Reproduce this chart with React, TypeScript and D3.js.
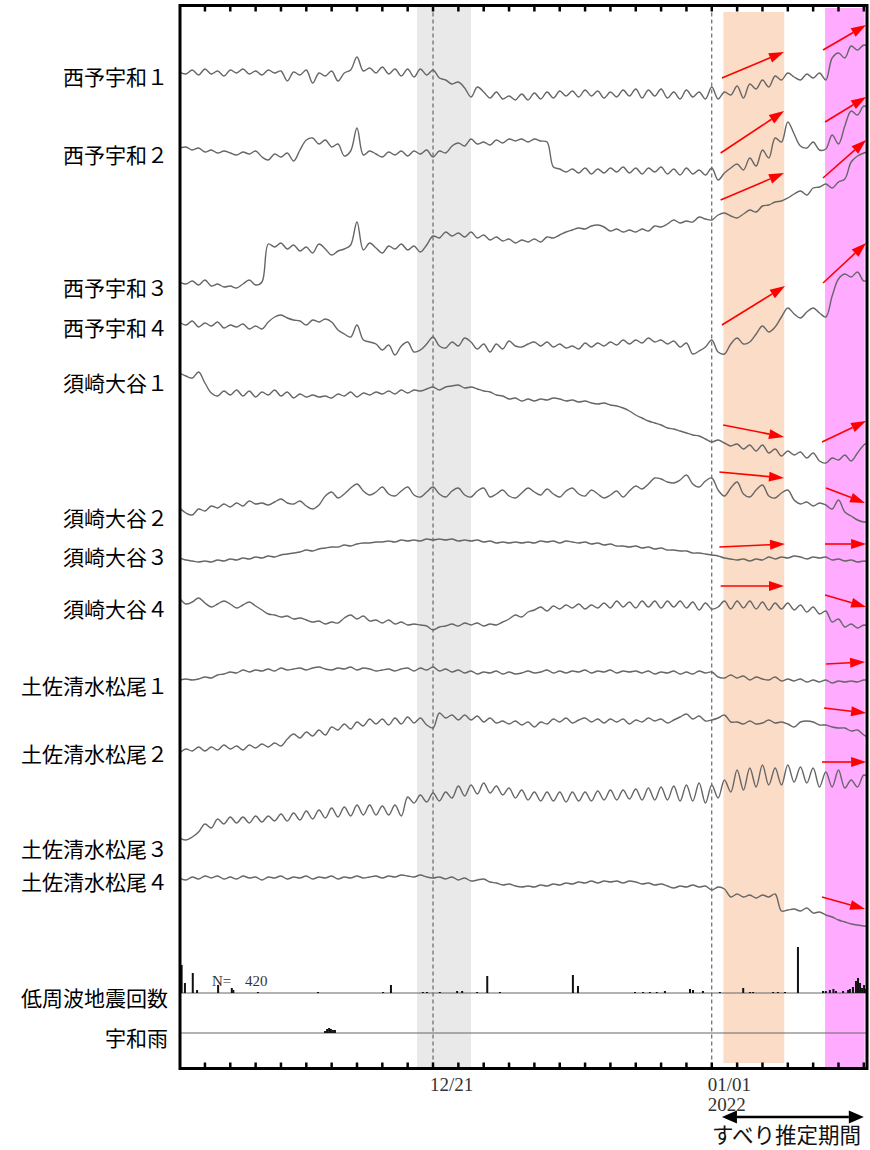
import React from 'react';
import * as d3 from 'd3';

// ---------- data ----------
const START = new Date(2021, 11, 11);
const END = new Date(2022, 0, 7, 3);
const STEP_DAYS = 0.25;

const STATIONS = [
  '西予宇和１', '西予宇和２', '西予宇和３', '西予宇和４',
  '須崎大谷１', '須崎大谷２', '須崎大谷３', '須崎大谷４',
  '土佐清水松尾１', '土佐清水松尾２', '土佐清水松尾３', '土佐清水松尾４',
];

const T1 = [0,-2,2,-3,3,-2,1,-4,2,-1, 3,-2,1,-3,2,-1,1,-9,0,-3, 2,-11,-1,-4,1,-9,-1,2,15,1, 4,-1,5,-2,3,-4,3,-5,3,-3, 2,-6,-8,-12,-10,-16,-25,-15,-20,-26, -20,-27,-24,-28,-22,-28,-21,-27,-20,-26, -19,-24,-19,-25,-18,-24,-19,-26,-20,-25, -18,-24,-17,-26,-18,-24,-17,-26,-20,-27, -18,-25,-20,-27,-15,-27,-20,-23,-14,-26, -12,-17,-8,-15,-4,-8,-1,-5,-8,-2, -6,-1,-8,14,19,14,26,22,27,25];
const T2 = [0,1,-2,0,-4,-2,-5,-3,-5,-7, -4,-6,-3,-9,-12,-6,-9,-5,-13,-2, 8,10,4,8,1,4,-8,-3,20,-7, -3,-6,-9,-4,-7,-3,-8,-3,-6,-2, -9,-3,-5,2,5,2,9,4,6,3, 8,5,9,7,9,6,9,7,6,-19, -21,-24,-21,-25,-20,-26,-21,-25,-20,-24, -19,-25,-20,-26,-20,-24,-19,-26,-21,-27, -20,-26,-22,-27,-20,-32,-25,-20,-16,-22, -10,-18,-2,-10,10,6,26,14,2,0, 6,-2,-1,13,4,22,37,33,42,38];
const T3 = [0,-2,1,-3,2,-4,-2,-5,-4,-6, -2,2,-3,0,38,35,39,33,37,31, 35,29,38,33,27,31,33,37,60,32, 39,34,29,36,33,38,32,36,30,37, 46,44,50,46,49,45,50,44,47,42, 45,41,43,39,42,40,43,40,45,44, 47,50,52,54,53,56,57,55,51,53, 50,52,50,53,51,56,55,58,62,59, 61,60,65,63,62,67,69,66,64,68, 72,70,76,77,80,81,84,88,91,87, 94,95,98,94,100,103,120,126,129,131];
const T4 = [0,-3,1,-5,-1,-4,0,-6,-3,-5, -2,-7,-4,-7,0,5,7,4,2,1, -3,2,0,3,0,-8,-12,-15,-3,-18, -20,-22,-28,-23,-33,-24,-20,-30,-28,-22, -15,-24,-26,-20,-24,-16,-20,-27,-22,-30, -22,-27,-19,-24,-25,-22,-20,-24,-20,-25, -22,-26,-24,-27,-21,-25,-21,-24,-20,-23, -18,-22,-18,-21,-16,-20,-18,-22,-19,-25, -21,-32,-29,-25,-18,-30,-32,-22,-16,-22, -20,-12,-4,-10,-5,5,14,8,4,10, 14,9,5,26,43,48,45,50,41,43];
const T5 = [0,-3,-5,1,-10,-20,-23,-18,-22,-17, -23,-18,-24,-19,-22,-17,-23,-19,-25,-21, -24,-22,-24,-23,-25,-21,-23,-19,-24,-20, -22,-19,-21,-18,-21,-17,-20,-17,-18,-16, -14,-17,-14,-13,-12,-15,-14,-16,-18,-19, -22,-23,-26,-25,-28,-26,-28,-26,-27,-25, -26,-28,-27,-29,-28,-30,-31,-30,-32,-33, -35,-38,-42,-45,-48,-50,-52,-55,-56,-58, -60,-62,-63,-66,-69,-67,-70,-73,-71,-76, -72,-78,-72,-80,-76,-83,-78,-82,-79,-85, -80,-88,-90,-85,-87,-82,-88,-80,-72,-68];
const T6 = [0,-5,-7,-1,-3,2,0,4,1,5, 2,7,4,5,3,6,9,5,4,7, 2,-1,3,12,16,10,14,20,24,17, 13,16,21,14,12,17,21,13,11,16, 21,14,11,17,20,13,11,17,20,11, 14,18,12,10,15,20,16,13,19,14, 11,17,20,14,12,18,14,10,13,17, 11,17,22,19,24,30,29,26,25,28, 33,24,21,27,30,18,12,20,26,14, 11,18,23,12,10,15,18,8,4,6, 2,5,3,-1,8,-4,-8,-12,-14,-13];
const T7 = [0,-2,-3,-4,-3,-4,-2,-3,-1,-2, 0,-1,1,0,2,1,3,4,5,6, 8,7,9,10,11,11,13,12,14,15, 15,16,16,17,16,18,17,18,17,19, 18,19,18,19,17,18,17,18,16,17, 15,16,15,16,15,16,15,17,16,17, 15,17,16,15,16,14,15,13,14,12, 12,11,12,10,11,9,10,8,8,7, 7,5,5,4,3,2,0,-1,-2,-1, -3,-1,-2,1,-1,1,0,2,1,-1, 1,0,1,-2,-1,-3,-2,-4,-3,-4];
const T8 = [0,-6,-4,0,-5,-9,-6,-3,-6,-10, -7,-4,-8,-12,-16,-17,-19,-18,-21,-20, -22,-24,-23,-26,-24,-25,-20,-17,-21,-18, -23,-22,-25,-22,-26,-24,-27,-26,-27,-28, -32,-29,-28,-26,-28,-25,-27,-25,-28,-26, -27,-24,-21,-17,-19,-14,-12,-9,-13,-8, -11,-7,-10,-6,-11,-7,-10,-5,-10,-3, -9,-4,-10,-3,-9,-3,-10,-3,-9,-3, -10,-4,-12,-5,-11,-9,-3,-11,-3,-10, -3,-11,-4,-12,-5,-11,-5,-12,-7,-14, -9,-16,-13,-24,-21,-29,-26,-30,-27,-29];
const T9 = [0,1,0,1,3,2,5,6,8,7, 10,8,10,9,11,9,12,10,11,12, 10,12,13,11,10,12,11,13,10,12, 11,9,10,11,9,11,12,9,12,10, 13,9,11,8,10,7,9,6,8,7, 9,6,8,6,7,9,7,8,10,7, 9,7,9,8,10,7,9,8,10,7, 9,8,9,7,9,6,8,7,9,6, 8,6,9,7,8,3,2,5,2,4, 0,3,1,0,3,-1,1,-1,1,-2, 0,-2,0,-3,-1,-2,-1,-2,0,0];
const T10 = [0,4,2,6,2,6,3,8,4,7, 3,8,5,9,6,10,7,14,19,15, 21,17,23,18,26,23,29,24,31,27, 34,29,34,28,35,29,36,30,35,28, 25,40,35,38,33,38,33,37,31,35, 30,32,29,32,28,31,26,31,29,34, 31,35,30,33,35,31,34,30,34,31, 34,29,33,31,35,32,34,30,33,36, 39,34,37,32,33,35,38,31,31,29, 32,29,30,33,30,31,29,26,31,32, 31,28,28,26,25,25,22,23,18,14];
const T11 = [0,-2,1,6,14,10,19,14,21,15, 21,15,22,16,22,17,24,17,25,18, 27,19,28,20,30,21,31,22,33,23, 33,23,32,23,33,22,41,35,43,36, 45,37,46,40,52,42,53,44,55,45, 52,43,50,40,48,38,46,37,46,37, 46,36,46,37,46,37,47,38,48,38, 48,39,49,38,50,38,51,38,52,37, 53,37,55,35,53,40,58,46,68,48, 70,51,73,53,70,53,73,56,71,55, 70,51,66,51,68,50,58,51,63,58];
const T12 = [0,-2,1,-1,2,0,2,-1,1,-1, 2,0,1,-2,1,0,2,-1,1,0, 2,-1,1,0,2,-1,1,0,2,0, 1,2,0,2,1,3,2,1,3,1, 0,1,-1,1,-2,0,-3,-2,-1,-4, -5,-7,-6,-8,-9,-8,-9,-7,-8,-6, -7,-5,-6,-4,-5,-3,-5,-3,-4,-3, -5,-3,-4,-6,-5,-7,-6,-8,-10,-8, -9,-7,-9,-8,-12,-9,-11,-19,-16,-19, -17,-20,-17,-19,-16,-33,-32,-31,-33,-30, -35,-34,-37,-39,-42,-44,-46,-47,-48,-49];
const SERIES = [T1, T2, T3, T4, T5, T6, T7, T8, T9, T10, T11, T12];

// low-frequency earthquake counts (day offset from 12/11, count)
const QUAKE_DAY = [0.08,0.21,0.52,0.69,1.52,2.06,2.12,3.09,5.46,8.03,8.34,9.6,9.76,10.27,10.95,11.15,11.74,12.14,12.64,15.52,15.72,17.97,18.29,18.56,18.83,19.15,20.14,20.26,20.65,21.32,22.24,22.51,22.63,23.42,23.61,23.89,24.4,25.39,25.5,25.66,25.8,25.9,26.18,26.38,26.45,26.57,26.69,26.77,26.85,26.93,27.01,27.09];
const QUAKE_N = [28,10,20,3,8,5,3,1,1,1,8,1,1,1,2,2,1,17,1,18,7,1,1,1,1,2,4,3,2,1,5,1,1,1,1,1,46,2,2,3,4,2,2,3,4,6,12,15,10,5,8,4];
const QUAKE_TOTAL = 420;
// Uwa rainfall
const RAIN_DAY = [5.74,5.82,5.9,5.97,6.05,6.13];
const RAIN_MM = [2,4,5,4,3,3];

// shaded periods (day offsets)
const BANDS = [
  { d0: 9.37, d1: 11.5, fill: '#e9e9e9', top: 6, bottom: 1067 },
  { d0: 21.46, d1: 23.86, fill: '#fbdcc6', top: 12, bottom: 1063 },
  { d0: 25.47, d1: 27.03, fill: '#ffabff', top: 8, bottom: 1067 },
];
const DASH_DAYS = [10, 21];

// arrows: trace index, start/end day, start/end value
const ARROW_TRACE = [0,1,2,3,4,5,6,7, 0,1,2,3,4,5,6,7,8,9,10,11];
const ARROW_D0 = [21.4,21.35,21.35,21.4,21.45,21.3,21.3,21.35, 25.39,25.47,25.39,25.39,25.35,25.51,25.47,25.47,25.51,25.43,25.35,25.35];
const ARROW_D1 = [23.85,23.85,23.85,23.89,23.85,23.85,23.89,23.85, 27.09,27.09,27.09,27.09,27.09,27.05,27.09,27.09,27.05,27.09,27.09,27.05];
const ARROW_V0 = [-6,-5,82,-3,-52,36,11,12, 22,26,104,39,-69,20,14,3,16,45,76,-19];
const ARROW_V1 = [20,37,109,36,-64,30,14,12, 47,51,142,79,-48,5,14,-9,18,40,76,-31];

// ---------- layout ----------
const TRACE_BASE = [72,148,282,322,373,508,558,598,680,753,838,878];
const LABEL_Y = [76,154,287,327,382,517,556,608,685,753,848,881];
const PLOT = { left: 180, right: 867, top: 5.5, bottom: 1068.5 };
const QUAKE_BASE = 993;
const RAIN_BASE = 1033;

const dayToDate = (d: number) => new Date(START.getTime() + d * 86400000);

function arrowHead(x0: number, y0: number, x1: number, y1: number, len: number, hw: number) {
  const dx = x1 - x0, dy = y1 - y0;
  const L = Math.hypot(dx, dy);
  const ux = dx / L, uy = dy / L;
  const bx = x1 - ux * len, by = y1 - uy * len;
  const px = -uy, py = ux;
  return {
    bx, by,
    pts: `${x1},${y1} ${bx + px * hw},${by + py * hw} ${bx - px * hw},${by - py * hw}`,
  };
}

export default function App() {
  const x = d3.scaleTime().domain([START, END]).range([179.6, 867]);
  const traceScales = TRACE_BASE.map((b) => d3.scaleLinear().domain([0, 1]).range([b, b - 1]));
  const barScale = d3.scaleLinear().domain([0, 50]).range([0, 50]);

  const ticks = d3.timeDay.range(new Date(2021, 11, 12), new Date(2022, 0, 8));

  const paths = SERIES.map((s, k) =>
    d3.line<number>()
      .x((_, i) => x(dayToDate(i * STEP_DAYS)))
      .y((v) => traceScales[k](v))
      .curve(d3.curveCatmullRom.alpha(0.5))(s) as string
  );

  const labelFont = '"Noto Sans CJK JP", "Noto Sans", sans-serif';
  const serif = '"Liberation Serif", "DejaVu Serif", serif';

  const xa = x(dayToDate(21.4));
  const xb = x(dayToDate(27.0));
  const ya = 1117;

  return (
    <svg width={870} height={1150} style={{ position: 'absolute', left: 0, top: 0, background: '#fff' }}>
      <defs>
        <clipPath id="plotclip">
          <rect x={PLOT.left + 1} y={PLOT.top} width={PLOT.right - PLOT.left - 1.5} height={PLOT.bottom - PLOT.top} />
        </clipPath>
      </defs>
      <rect x={0} y={0} width={870} height={1150} fill="#fff" />

      {BANDS.map((b, i) => (
        <rect key={i} x={x(dayToDate(b.d0))} y={b.top} width={x(dayToDate(b.d1)) - x(dayToDate(b.d0))}
          height={b.bottom - b.top} fill={b.fill} />
      ))}

      {DASH_DAYS.map((d, i) => (
        <line key={i} x1={x(dayToDate(d))} x2={x(dayToDate(d))} y1={PLOT.top} y2={PLOT.bottom}
          stroke="#4a4a55" strokeWidth={1} strokeDasharray="4,3" />
      ))}

      <g clipPath="url(#plotclip)">
        {paths.map((p, k) => (
          <path key={k} d={p} fill="none" stroke="#666" strokeWidth={1.4} strokeLinejoin="round" />
        ))}

        <line x1={PLOT.left} x2={PLOT.right} y1={QUAKE_BASE} y2={QUAKE_BASE} stroke="#666" strokeWidth={1} />
        <line x1={PLOT.left} x2={PLOT.right} y1={RAIN_BASE} y2={RAIN_BASE} stroke="#666" strokeWidth={1} />
        {QUAKE_DAY.map((d, i) => (
          <rect key={i} x={x(dayToDate(d)) - 1} y={QUAKE_BASE - barScale(QUAKE_N[i])} width={2}
            height={barScale(QUAKE_N[i])} fill="#111" />
        ))}
        {RAIN_DAY.map((d, i) => (
          <rect key={i} x={x(dayToDate(d)) - 1} y={RAIN_BASE - barScale(RAIN_MM[i])} width={2}
            height={barScale(RAIN_MM[i])} fill="#111" />
        ))}
      </g>
      <text x={212} y={986} fontFamily={serif} fontSize={15} fill="#333">N=</text>
      <text x={245} y={986} fontFamily={serif} fontSize={15} fill="#333">{QUAKE_TOTAL}</text>

      {ARROW_TRACE.map((k, i) => {
        const x0 = x(dayToDate(ARROW_D0[i]));
        const x1 = x(dayToDate(ARROW_D1[i]));
        const y0 = traceScales[k](ARROW_V0[i]);
        const y1 = traceScales[k](ARROW_V1[i]);
        const h = arrowHead(x0, y0, x1, y1, 15, 5);
        return (
          <g key={i}>
            <line x1={x0} y1={y0} x2={h.bx} y2={h.by} stroke="#ff0000" strokeWidth={1.6} />
            <polygon points={h.pts} fill="#ff0000" />
          </g>
        );
      })}

      {/* frame */}
      <rect x={PLOT.left} y={PLOT.top} width={PLOT.right - PLOT.left} height={PLOT.bottom - PLOT.top}
        fill="none" stroke="#000" strokeWidth={3} />
      {ticks.map((t, i) => (
        <g key={i}>
          <line x1={x(t)} x2={x(t)} y1={PLOT.top} y2={PLOT.top + 6} stroke="#000" strokeWidth={2.5} />
          <line x1={x(t)} x2={x(t)} y1={PLOT.bottom - 6} y2={PLOT.bottom} stroke="#000" strokeWidth={2.5} />
        </g>
      ))}

      <text x={x(new Date(2021, 11, 21)) - 3} y={1091} fontFamily={serif} fontSize={19} fill="#333">12/21</text>
      <text x={x(new Date(2022, 0, 1)) - 4} y={1091} fontFamily={serif} fontSize={19} fill="#333">01/01</text>
      <text x={x(new Date(2022, 0, 1)) - 4} y={1111} fontFamily={serif} fontSize={19} fill="#333">2022</text>

      {STATIONS.map((s, k) => (
        <text key={k} x={168} y={LABEL_Y[k]} textAnchor="end" dominantBaseline="central"
          fontFamily={labelFont} fontSize={21} fill="#000">{s}</text>
      ))}
      <text x={168} y={997} textAnchor="end" dominantBaseline="central" fontFamily={labelFont} fontSize={21} fill="#000">低周波地震回数</text>
      <text x={168} y={1037} textAnchor="end" dominantBaseline="central" fontFamily={labelFont} fontSize={21} fill="#000">宇和雨</text>

      {/* slip estimation period */}
      {(() => {
        const hl = arrowHead(xb, ya, xa, ya, 15, 6.5);
        const hr = arrowHead(xa, ya, xb, ya, 15, 6.5);
        return (
          <g>
            <line x1={hl.bx} x2={hr.bx} y1={ya} y2={ya} stroke="#000" strokeWidth={2.5} />
            <polygon points={hl.pts} fill="#000" />
            <polygon points={hr.pts} fill="#000" />
          </g>
        );
      })()}
      <text x={712} y={1143} fontFamily={labelFont} fontSize={21.5} fill="#111">すべり推定期間</text>
    </svg>
  );
}
